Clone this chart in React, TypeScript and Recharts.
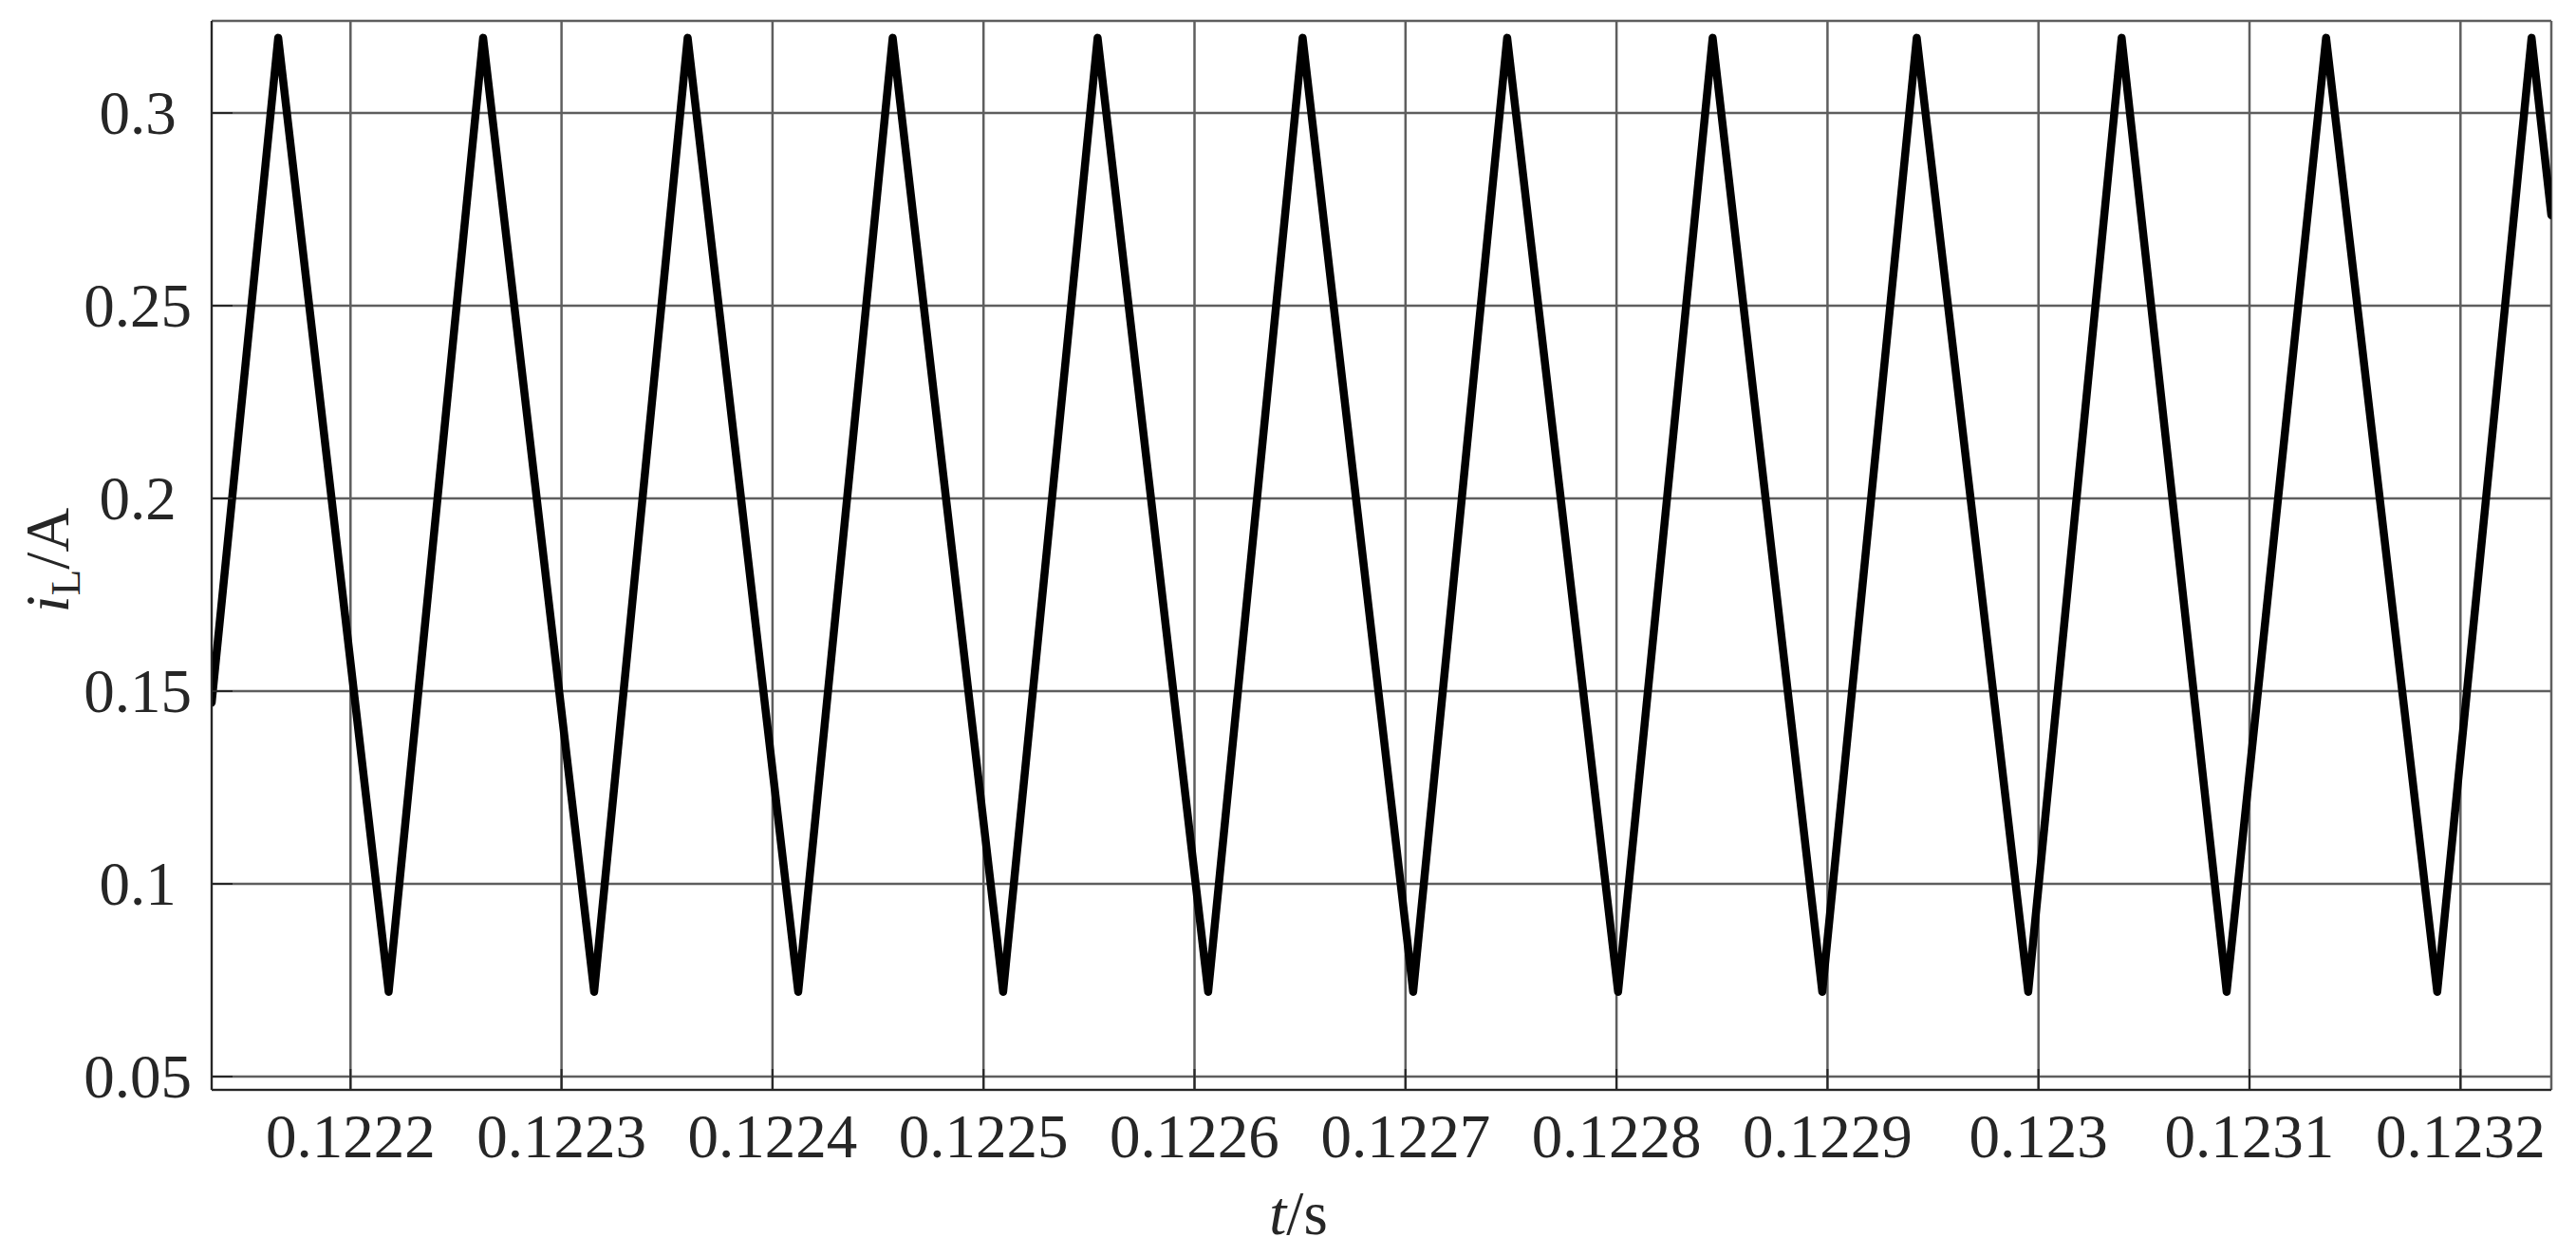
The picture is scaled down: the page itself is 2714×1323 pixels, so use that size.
import React from 'react';
import {
  LineChart,
  Line,
  XAxis,
  YAxis,
  CartesianGrid,
} from 'recharts';

// inductor current (s, A)
const startPoint = { t: 0.12213419, i: 0.147 };
const endPoint = { t: 0.12324305, i: 0.2735 };

const peakTimes = [
  0.12216572, 0.12226284, 0.12235978, 0.12245695, 0.12255407, 0.12265124,
  0.12274818, 0.12284557, 0.12294229, 0.12303941, 0.1231363, 0.12323369,
];
const peakValues = [
  0.3195, 0.3195, 0.3195, 0.3195, 0.3195, 0.3195,
  0.3195, 0.3195, 0.3195, 0.3195, 0.3195, 0.3195,
];
const troughTimes = [
  0.12221808, 0.12231547, 0.12241219, 0.12250931, 0.12260648, 0.12270364,
  0.12280076, 0.12289753, 0.12299514, 0.12308918, 0.12318898,
];
const troughValues = [
  0.072, 0.072, 0.072, 0.072, 0.072, 0.072,
  0.072, 0.072, 0.072, 0.072, 0.072,
];

const xTicks = [
  0.1222, 0.1223, 0.1224, 0.1225, 0.1226, 0.1227,
  0.1228, 0.1229, 0.123, 0.1231, 0.1232,
];
const xTickLabels = [
  '0.1222', '0.1223', '0.1224', '0.1225', '0.1226', '0.1227',
  '0.1228', '0.1229', '0.123', '0.1231', '0.1232',
];
const yTicks = [0.05, 0.1, 0.15, 0.2, 0.25, 0.3];
const yTickLabels = ['0.05', '0.1', '0.15', '0.2', '0.25', '0.3'];

const xDomain = [0.12213419, 0.12324305];
const yDomain = [0.04655, 0.3239];

const FONT = '"Liberation Serif", "Times New Roman", serif';
const TEXT = '#262626';
const FS = 65;
const TICK_LEN = 22;

const data = [
  startPoint,
  ...peakTimes.map((t, k) => ({ t, i: peakValues[k] })),
  ...troughTimes.map((t, k) => ({ t, i: troughValues[k] })),
  endPoint,
].sort((a, b) => a.t - b.t);

function BottomTick({ x, y, payload, index }: any) {
  return (
    <g>
      <line x1={x} x2={x} y1={y} y2={y - TICK_LEN} stroke={TEXT} strokeWidth={2} />
      <text x={x} y={y + 71} textAnchor="middle" fontFamily={FONT} fontSize={FS} fill={TEXT}>
        {xTickLabels[index] ?? payload.value}
      </text>
    </g>
  );
}

function TopTick({ x, y }: any) {
  return <line x1={x} x2={x} y1={y} y2={y + TICK_LEN} stroke={TEXT} strokeWidth={2} />;
}

function LeftTick({ x, y, payload, index }: any) {
  return (
    <g>
      <line x1={x} x2={x + TICK_LEN} y1={y} y2={y} stroke={TEXT} strokeWidth={2} />
      <text x={x - 78} y={y} dy={22} textAnchor="middle" fontFamily={FONT} fontSize={FS} fill={TEXT}>
        {yTickLabels[index] ?? payload.value}
      </text>
    </g>
  );
}

function RightTick({ x, y }: any) {
  return <line x1={x} x2={x - TICK_LEN} y1={y} y2={y} stroke={TEXT} strokeWidth={2} />;
}

function YLabel({ viewBox }: any) {
  const cx = viewBox.x + 72;
  const cy = viewBox.y + viewBox.height / 2 + 5;
  return (
    <text
      x={cx}
      y={cy}
      transform={`rotate(-90 ${cx} ${cy})`}
      textAnchor="middle"
      fontFamily={FONT}
      fontSize={FS}
      fill={TEXT}
    >
      <tspan fontStyle="italic">i</tspan>
      <tspan fontSize={45} dy={12}>L</tspan>
      <tspan dy={-12}>/A</tspan>
    </text>
  );
}

function XLabel({ viewBox }: any) {
  const cx = viewBox.x + 1145;
  const cy = viewBox.y + 152;
  return (
    <text x={cx} y={cy} textAnchor="middle" fontFamily={FONT} fontSize={FS} fill={TEXT}>
      <tspan fontStyle="italic">t</tspan>
      <tspan>/s</tspan>
    </text>
  );
}

export default function App() {
  return (
    <div style={{ position: 'absolute', left: 0, top: 0, width: 2714, height: 1323, background: '#fff' }}>
      <LineChart
        width={2714}
        height={1323}
        data={data}
        margin={{ top: 22, right: 26, left: 0, bottom: 0 }}
      >
        <CartesianGrid stroke="#5e5e5e" strokeWidth={2.5} />
        <XAxis
          dataKey="t"
          type="number"
          domain={xDomain}
          ticks={xTicks}
          allowDataOverflow
          height={175}
          tickSize={0}
          tickMargin={0}
          tickLine={false}
          axisLine={{ stroke: TEXT, strokeWidth: 2 }}
          tick={<BottomTick />}
          interval={0}
          label={<XLabel />}
        />
        <XAxis
          xAxisId="top"
          orientation="top"
          dataKey="t"
          type="number"
          domain={xDomain}
          ticks={xTicks}
          allowDataOverflow
          height={0}
          tickSize={0}
          tickMargin={0}
          tickLine={false}
          axisLine={{ stroke: TEXT, strokeWidth: 2 }}
          tick={<TopTick />}
          interval={0}
        />
        <YAxis
          type="number"
          domain={yDomain}
          ticks={yTicks}
          allowDataOverflow
          width={223}
          tickSize={0}
          tickMargin={0}
          tickLine={false}
          axisLine={{ stroke: TEXT, strokeWidth: 2 }}
          tick={<LeftTick />}
          interval={0}
          label={<YLabel />}
        />
        <YAxis
          yAxisId="right"
          orientation="right"
          type="number"
          domain={yDomain}
          ticks={yTicks}
          allowDataOverflow
          width={0}
          tickSize={0}
          tickMargin={0}
          tickLine={false}
          axisLine={{ stroke: TEXT, strokeWidth: 2 }}
          tick={<RightTick />}
          interval={0}
        />
        <Line
          type="linear"
          dataKey="i"
          stroke="#000"
          strokeWidth={8.5}
          strokeLinejoin="round"
          strokeLinecap="round"
          dot={false}
          activeDot={false}
          isAnimationActive={false}
        />
      </LineChart>
    </div>
  );
}
